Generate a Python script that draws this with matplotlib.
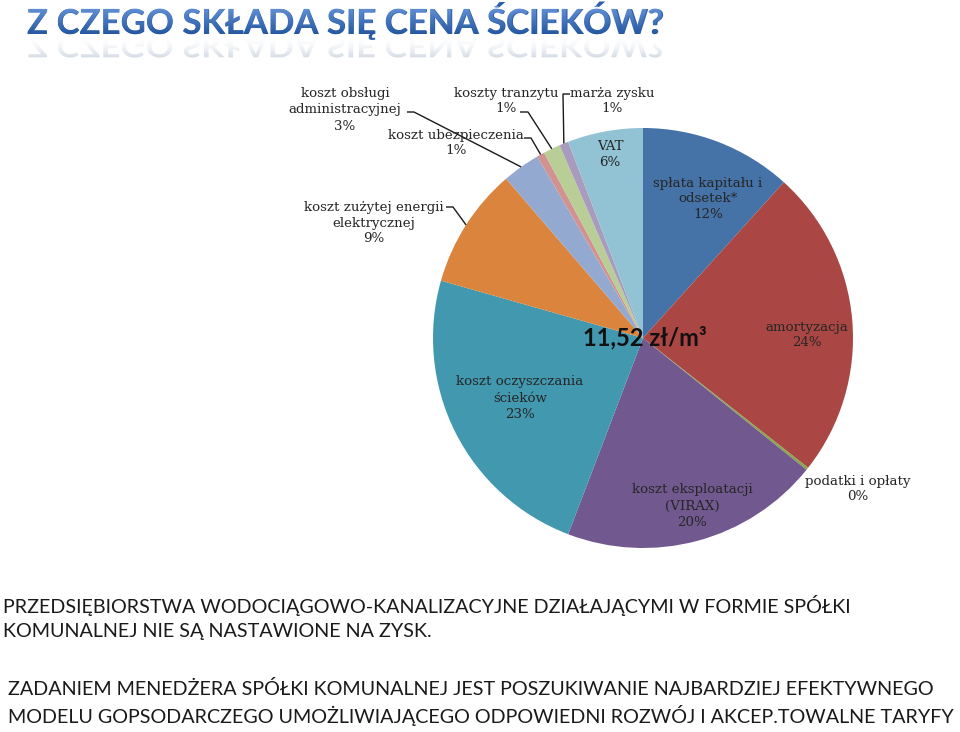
import numpy as np
import matplotlib.pyplot as plt
from matplotlib.textpath import TextPath
from matplotlib.patches import PathPatch
from matplotlib.font_manager import FontProperties
from matplotlib.transforms import Affine2D

# slice data (clockwise from 12 o'clock)
labels = ['spłata kapitału i\nodsetek*', 'amortyzacja', 'podatki i opłaty',
          'koszt eksploatacji\n(VIRAX)', 'koszt oczyszczania\nścieków',
          'koszt zużytej energii\nelektrycznej', 'koszt obsługi\nadministracyjnej',
          'koszt ubezpieczenia', 'koszty tranzytu', 'marża zysku', 'VAT']
shares = [11.7, 23.9, 0.2, 20.0, 23.6, 9.3, 2.9, 0.6, 1.3, 0.7, 5.8]
pct_text = ['12%', '24%', '0%', '20%', '23%', '9%', '3%', '1%', '1%', '1%', '6%']
colors = ['#4572A7', '#AA4643', '#89A54E', '#71588F', '#4198AF', '#DB843D',
          '#93A9CF', '#D19392', '#B9CD96', '#A99BBD', '#92C3D4']

title = 'Z CZEGO SKŁADA SIĘ CENA ŚCIEKÓW?'
center_text = '11,52 zł/m³'
notes = ['PRZEDSIĘBIORSTWA WODOCIĄGOWO-KANALIZACYJNE DZIAŁAJĄCYMI W FORMIE SPÓŁKI',
         'KOMUNALNEJ NIE SĄ NASTAWIONE NA ZYSK.',
         'ZADANIEM MENEDŻERA SPÓŁKI KOMUNALNEJ JEST POSZUKIWANIE NAJBARDZIEJ EFEKTYWNEGO',
         'MODELU GOPSODARCZEGO UMOŻLIWIAJĄCEGO ODPOWIEDNI ROZWÓJ I AKCEP.TOWALNE TARYFY']

W, H = 960, 732
fig = plt.figure(figsize=(W / 100, H / 100), dpi=100)
fig.patch.set_facecolor('white')

# pie
cx, cy, R = 643, 338, 210
ax = fig.add_axes([(cx - R) / W, (H - cy - R) / H, 2 * R / W, 2 * R / H])
wedges, _ = ax.pie(shares, colors=colors, startangle=90, counterclock=False,
                   radius=1, wedgeprops=dict(linewidth=0))
ax.set_xlim(-1, 1)
ax.set_ylim(-1, 1)
ax.axis('off')

# overlay axes in pixel coordinates (drawn on top of the pie)
top = fig.add_axes([0, 0, 1, 1])
top.patch.set_alpha(0)
top.axis('off')

def edge_point(i, r=1.0):
    w = wedges[i]
    t = np.deg2rad((w.theta1 + w.theta2) / 2)
    return cx + R * r * np.cos(t), cy - R * r * np.sin(t)

lab_font = dict(family='DejaVu Serif', fontsize=9.6, color='#262626',
                ha='center', va='center', linespacing=1.3)

# label positions (pixel, centre of text block)
label_pos = [(708, 199), (807, 335), (858, 489), (692, 506), (520, 398),
             (374, 223), (345, 110), (456, 143), (506, 101), (612, 101), (610, 155)]
for i, (x, y) in enumerate(label_pos):
    top.text(x, y, labels[i] + '\n' + pct_text[i], **lab_font)

# leader lines: start points near text, end at slice edge
leaders = {6: [(407, 112), (414, 112)],
           7: [(524, 138), (531, 138)],
           8: [(520, 112), (528, 112)],
           9: [(570, 94), (563, 94)],
           5: [(446, 207), (453, 207)]}
for i, pts in leaders.items():
    ex, ey = edge_point(i)
    xs = [p[0] for p in pts] + [ex]
    ys = [p[1] for p in pts] + [ey]
    top.plot(xs, ys, color='#1a1a1a', lw=1.0, solid_capstyle='butt')

# centre text
top.text(cx + 2, cy, center_text, family='Lato', weight='bold',
         fontsize=17, color='#111111', ha='center', va='center')

# title with gradient and reflection
tfont = FontProperties(family='Lato', weight='bold')
tsize = 25
tx, ty = 27, 34
top.text(tx, ty, title, fontproperties=tfont, fontsize=tsize, color='#2f5fa8',
         ha='left', va='baseline')
tp = TextPath((0, 0), title, size=tsize, prop=tfont)
sc = 100 / 72
p_main = Affine2D().scale(sc, -sc).translate(tx, ty).transform_path(tp)
p_refl = Affine2D().scale(sc, sc * 0.85).translate(tx, ty + 2).transform_path(tp)

grad = np.linspace(0, 1, 64)[:, None]
c_top = np.array([0.40, 0.58, 0.85])
c_bot = np.array([0.13, 0.33, 0.62])
img = c_top[None, None, :] * (1 - grad[..., None]) + c_bot[None, None, :] * grad[..., None]
img = np.repeat(img, 2, axis=1)
im = top.imshow(img, extent=[0, 700, 36, 6], aspect='auto', zorder=3, interpolation='bilinear')
clip = PathPatch(p_main, transform=top.transData, facecolor='none', edgecolor='none')
top.add_patch(clip)
im.set_clip_path(clip)

rgba = np.zeros((64, 2, 4))
rgba[..., :3] = np.array([0.55, 0.62, 0.72])
rgba[..., 3] = 0.38 * (1 - grad) ** 1.8
im2 = top.imshow(rgba, extent=[0, 700, 36, 58], aspect='auto', zorder=3, interpolation='bilinear')
clip2 = PathPatch(p_refl, transform=top.transData, facecolor='none', edgecolor='none')
top.add_patch(clip2)
im2.set_clip_path(clip2)
top.set_xlim(0, W)
top.set_ylim(H, 0)

# bottom notes
note_font = dict(family='Lato', fontsize=14.2, color='#1a1a1a', ha='left', va='center')
top.text(3, 605, notes[0], **note_font)
top.text(3, 632, notes[1], **note_font)
top.text(8, 689, notes[2], **note_font)
top.text(8, 716, notes[3], **note_font)

fig.savefig('out.png', dpi=100, facecolor='white')
